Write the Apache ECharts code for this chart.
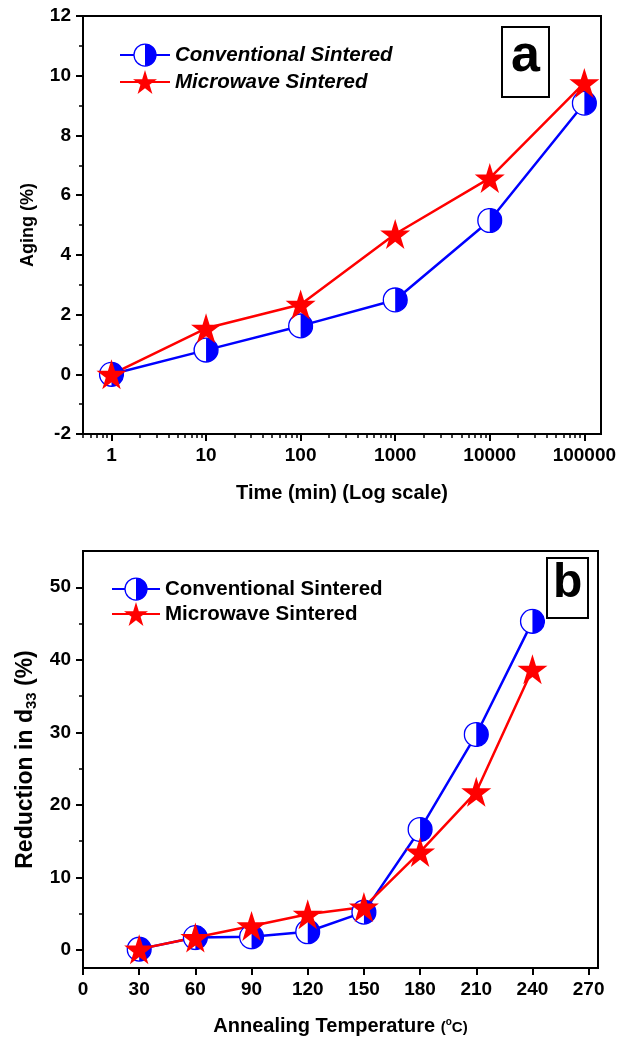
<!DOCTYPE html>
<html>
<head>
<meta charset="utf-8">
<script src="https://cdn.jsdelivr.net/npm/echarts@6/dist/echarts.min.js"></script>
<style>
html,body{margin:0;padding:0;background:#fff;}
#main{width:630px;height:1039px;}
</style>
</head>
<body>
<div id="main"></div>
<script>
// (a) aging vs time, log scale
var timeList = [1, 10, 100, 1000, 10000, 100000];
var agingConv = [0, 0.81, 1.62, 2.49, 5.15, 9.08];
var agingMicro = [0, 1.54, 2.34, 4.7, 6.57, 9.76];
var timeTicks = [1, 10, 100, 1000, 10000, 100000];

// (b) reduction in d33 vs annealing temperature
var tempList = [30, 60, 90, 120, 150, 180, 210, 240];
var redConv = [0.1, 1.7, 1.8, 2.5, 5.2, 16.6, 29.7, 45.3];
var redMicro = [0.1, 1.7, 3.3, 4.9, 5.9, 13.5, 21.8, 38.7];
var tempTicks = [0, 30, 60, 90, 120, 150, 180, 210, 240, 270];
var redTicks = [0, 10, 20, 30, 40, 50];
var redMinor = [5, 15, 25, 35, 45];

// minor ticks 2..9 of every decade on the log axis
var timeMinor = [];
[0.1, 1, 10, 100, 1000, 10000, 100000].forEach(function (d) {
	for (var k = 2; k <= 9; k++) {
		var v = k * d;
		if (v >= 0.5 && v <= 150000) timeMinor.push(v);
	}
});

var FONT = "'Liberation Sans', Arial, sans-serif";
var BLUE = '#0000ff', RED = '#ff0000';

var halfSvg = "<svg xmlns='http://www.w3.org/2000/svg' width='48' height='48' viewBox='0 0 48 48'>" +
	"<circle cx='24' cy='24' r='22' fill='#ffffff' stroke='#0000ff' stroke-width='2.5'/>" +
	"<path d='M24 2 A22 22 0 0 1 24 46 Z' fill='#0000ff'/></svg>";
var halfCircle = 'image://data:image/svg+xml;charset=utf-8,' + encodeURIComponent(halfSvg);
var star = 'path://M50,0 L61.2,34.5 L97.6,34.5 L68.2,55.9 L79.4,90.5 L50,69.1 L20.6,90.5 L31.8,55.9 L2.4,34.5 L38.8,34.5 Z';

function pairs(xs, ys) {
	return xs.map(function (x, i) { return [x, ys[i]]; });
}

var tickLabel = { color: '#000', fontSize: 19, fontWeight: 'bold', fontFamily: FONT };
var axisLineBlack = { show: true, onZero: false, lineStyle: { color: '#000', width: 2 } };
var nameStyle = { color: '#000', fontSize: 20, fontWeight: 'bold', fontFamily: FONT };

var chart = echarts.init(document.getElementById('main'));
chart.setOption({
	animation: false,
	backgroundColor: '#fff',
	title: [{
		text: 'a', left: 502, top: 27,
		borderColor: '#000', borderWidth: 2, padding: [4, 9, 14, 9],
		textStyle: { color: '#000', fontSize: 52, lineHeight: 52, fontWeight: 'bold', fontFamily: FONT }
	}, {
		text: 'b', left: 547, top: 558,
		borderColor: '#000', borderWidth: 2, padding: [2, 6, 10, 6],
		textStyle: { color: '#000', fontSize: 48, lineHeight: 48, fontWeight: 'bold', fontFamily: FONT }
	}],
	legend: [{
		orient: 'vertical', left: 114, top: 38, itemWidth: 50, itemHeight: 30, itemGap: 3,
		selectedMode: false,
		data: ['Conventional Sintered', 'Microwave Sintered'],
		textStyle: { color: '#000', fontSize: 20.5, fontWeight: 'bold', fontStyle: 'italic', fontFamily: FONT }
	}, {
		orient: 'vertical', left: 106, top: 572, itemWidth: 48, itemHeight: 30, itemGap: 1,
		selectedMode: false,
		data: ['Conventional Sintered', 'Microwave Sintered'],
		textStyle: { color: '#000', fontSize: 20.5, fontWeight: 'bold', fontFamily: FONT }
	}],
	grid: [
		{ left: 83, top: 16, width: 518, height: 418, show: true, borderColor: '#000', borderWidth: 2, backgroundColor: 'transparent' },
		{ left: 83, top: 551, width: 515, height: 417, show: true, borderColor: '#000', borderWidth: 2, backgroundColor: 'transparent' }
	],
	xAxis: [{
		gridIndex: 0, type: 'log', logBase: 10, min: 0.5, max: 150000,
		axisLine: axisLineBlack,
		axisTick: { show: true, inside: false, length: 7, lineStyle: { color: '#000', width: 2 }, customValues: timeTicks },
		axisLabel: Object.assign({ margin: 12, customValues: timeTicks, formatter: function (v) { return String(Math.round(v)); } }, tickLabel),
		splitLine: { show: false },
		name: 'Time (min) (Log scale)', nameLocation: 'middle', nameGap: 49, nameTextStyle: nameStyle
	}, {
		// minor ticks only
		gridIndex: 0, type: 'log', logBase: 10, min: 0.5, max: 150000, position: 'bottom',
		axisLine: { show: false, onZero: false },
		axisTick: { show: true, inside: false, length: 4, lineStyle: { color: '#000', width: 1.5 }, customValues: timeMinor },
		axisLabel: { show: false },
		splitLine: { show: false }
	}, {
		gridIndex: 1, type: 'value', min: 0, max: 275,
		axisLine: axisLineBlack,
		axisTick: { show: true, inside: false, length: 7, lineStyle: { color: '#000', width: 2 }, customValues: tempTicks },
		axisLabel: Object.assign({ margin: 12, customValues: tempTicks }, tickLabel),
		splitLine: { show: false },
		name: 'Annealing Temperature {sm|(}{sup|o}{sm|C)}', nameLocation: 'middle', nameGap: 48,
		nameTextStyle: Object.assign({
			rich: {
				sm: { color: '#000', fontSize: 15, fontWeight: 'bold', fontFamily: FONT, padding: [4, 0, 0, 0] },
				sup: { color: '#000', fontSize: 10, fontWeight: 'bold', fontFamily: FONT, padding: [0, 0, 7, 0] }
			}
		}, nameStyle)
	}],
	yAxis: [{
		gridIndex: 0, type: 'value', min: -2, max: 12, interval: 2,
		axisLine: axisLineBlack,
		axisTick: { show: true, inside: false, length: 7, lineStyle: { color: '#000', width: 2 } },
		minorTick: { show: true, splitNumber: 2, length: 4, lineStyle: { color: '#000', width: 1.5 } },
		axisLabel: Object.assign({ margin: 12 }, tickLabel),
		splitLine: { show: false },
		name: 'Aging (%)', nameLocation: 'middle', nameGap: 46,
		nameTextStyle: Object.assign({}, nameStyle, { fontSize: 18 })
	}, {
		gridIndex: 1, type: 'value', min: -2.5, max: 55,
		axisLine: axisLineBlack,
		axisTick: { show: true, inside: false, length: 7, lineStyle: { color: '#000', width: 2 }, customValues: redTicks },
		axisLabel: Object.assign({ margin: 12, customValues: redTicks }, tickLabel),
		splitLine: { show: false },
		name: 'Reduction in d{sub|33} (%)', nameLocation: 'middle', nameGap: 44,
		nameTextStyle: Object.assign({}, nameStyle, {
			fontSize: 23,
			rich: {
				sub: { color: '#000', fontSize: 15, fontWeight: 'bold', fontFamily: FONT, padding: [12, 0, 0, 0] }
			}
		})
	}, {
		// minor ticks only
		gridIndex: 1, type: 'value', min: -2.5, max: 55, position: 'left',
		axisLine: { show: false, onZero: false },
		axisTick: { show: true, inside: false, length: 4, lineStyle: { color: '#000', width: 1.5 }, customValues: redMinor },
		axisLabel: { show: false },
		splitLine: { show: false }
	}],
	series: [{
		name: 'Conventional Sintered', type: 'line', xAxisIndex: 0, yAxisIndex: 0,
		data: pairs(timeList, agingConv),
		symbol: halfCircle, symbolSize: 26,
		lineStyle: { color: BLUE, width: 2.5 }, itemStyle: { color: BLUE }
	}, {
		name: 'Microwave Sintered', type: 'line', xAxisIndex: 0, yAxisIndex: 0,
		data: pairs(timeList, agingMicro),
		symbol: star, symbolSize: 30,
		lineStyle: { color: RED, width: 2.5 }, itemStyle: { color: RED }
	}, {
		name: 'Conventional Sintered', type: 'line', xAxisIndex: 2, yAxisIndex: 1,
		data: pairs(tempList, redConv),
		symbol: halfCircle, symbolSize: 26,
		lineStyle: { color: BLUE, width: 2.5 }, itemStyle: { color: BLUE }
	}, {
		name: 'Microwave Sintered', type: 'line', xAxisIndex: 2, yAxisIndex: 1,
		data: pairs(tempList, redMicro),
		symbol: star, symbolSize: 30,
		lineStyle: { color: RED, width: 2.5 }, itemStyle: { color: RED }
	}]
});
</script>
</body>
</html>
